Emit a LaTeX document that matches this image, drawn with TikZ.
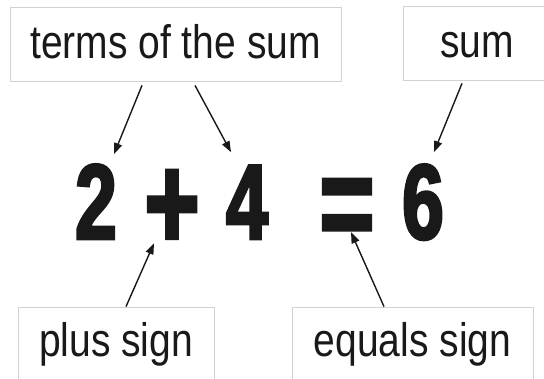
\documentclass[tikz,border=0pt]{standalone}
\usepackage{fontspec}
\usepackage{tikz}
\usetikzlibrary{arrows.meta}
\newfontfamily\labelfont{Liberation Sans}[FakeStretch=0.83]
\newfontfamily\bigfont{Liberation Sans Bold}[FakeStretch=0.7,FakeBold=2.5]

\begin{document}
\begin{tikzpicture}[x=1pt,y=-1pt,
    labelbox/.style={draw=gray!35,line width=0.8pt,fill=white,inner sep=0pt,
      font=\labelfont\fontsize{47}{47}\selectfont,text=black!90},
    topbox/.style={labelbox,minimum height=74pt,text height=40pt,text depth=10pt},
    botbox/.style={labelbox,minimum height=100pt,text height=20pt,text depth=20pt},
    glyph/.style={anchor=base,inner sep=0pt,font=\bigfont\fontsize{107}{107}\selectfont,text=black!90},
    opglyph/.style={glyph,font=\bigfont\fontsize{134}{134}\selectfont},
    pointer/.style={-{Triangle[length=11pt,width=8pt]},line width=1.4pt,black!90}]
      \useasboundingbox[fill=white] (0,0) rectangle (544,379);
      % labels
      \node[topbox,minimum width=331pt] (terms) at (175.5,44) {terms of the sum};
      \node[topbox,minimum width=148pt] (sum) at (477,43) {sum};
      \node[botbox,minimum width=196pt] (plus) at (116,357) {plus sign};
      \node[botbox,minimum width=241pt] (equals) at (412.5,357) {equals sign};
      % the sum itself
      \node[glyph] (two) at (96,239) {2};
      \node[opglyph] (plussym) at (172,249) {+};
      \node[glyph] (four) at (247,239) {4};
      \node[opglyph] (eq) at (347,249) {=};
      \node[glyph] (six) at (423,239) {6};
      % pointers
      \draw[pointer] ([xshift=-33.5pt,yshift=-4pt]terms.south) -- ([xshift=18pt,yshift=10pt]two.north);
      \draw[pointer] ([xshift=19.5pt,yshift=-4pt]terms.south) -- ([xshift=-16pt,yshift=13pt]four.north);
      \draw[pointer] ([xshift=-15pt,yshift=-3pt]sum.south) -- ([xshift=11pt,yshift=12pt]six.north);
      \draw[pointer] ([xshift=10pt]plus.north) -- ([xshift=-18pt,yshift=6pt]plussym.south);
      \draw[pointer] ([xshift=-28.5pt]equals.north) -- ([xshift=4pt,yshift=17pt]eq.south);
    \end{tikzpicture}
\end{document}
